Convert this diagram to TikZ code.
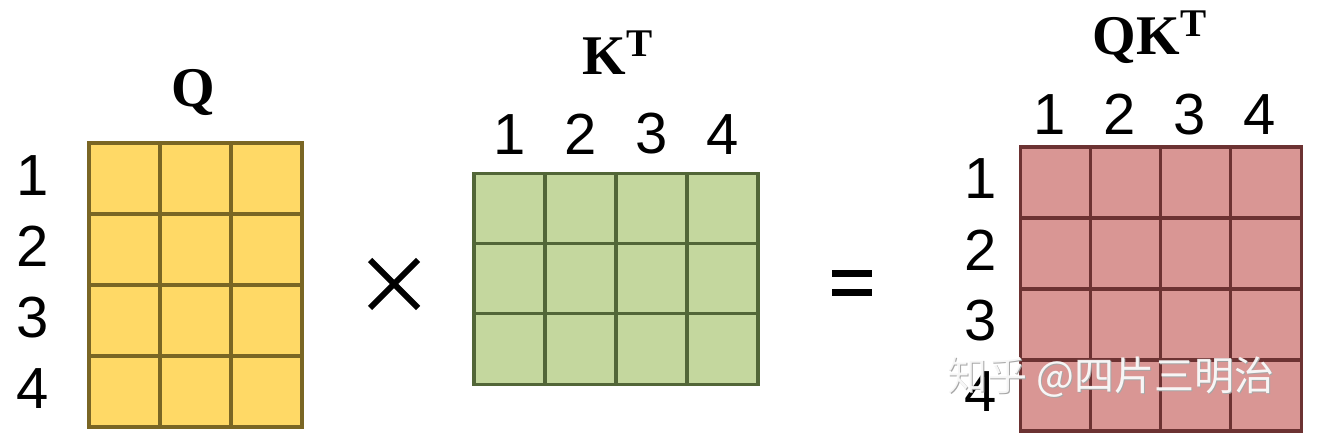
\documentclass[tikz,border=0pt]{standalone}
\usepackage{fontspec}
\setmainfont{Liberation Serif}
\setsansfont{Liberation Sans}
\newfontfamily\cjk{Noto Sans CJK SC}
\usetikzlibrary{positioning}
\definecolor{qfill}{RGB}{255,217,102}
\definecolor{qline}{RGB}{122,102,36}
\definecolor{kfill}{RGB}{196,215,158}
\definecolor{kline}{RGB}{82,102,56}
\definecolor{sfill}{RGB}{217,150,148}
\definecolor{sline}{RGB}{108,50,50}
\tikzset{
cell/.style = {draw, minimum size=35.5pt, inner sep=0pt, outer sep=0pt, line width=1.7pt},
qc/.style = {cell, fill=qfill, draw=qline},
kc/.style = {cell, fill=kfill, draw=kline},
sc/.style = {cell, fill=sfill, draw=sline},
num/.style = {font=\sffamily\fontsize{29}{30}\selectfont, inner sep=0pt},
lab/.style = {font=\bfseries\fontsize{28}{30}\selectfont, inner sep=0pt, anchor=base},
opsign/.style = {line width=#1, line cap=butt},
opsign/.default = 3pt,
wmark/.style = {font=\cjk\fontsize{20}{20}\selectfont, inner sep=0pt}
}

\begin{document}
\begin{tikzpicture}[x=0.5pt,y=-0.5pt]
  \useasboundingbox (0,0) rectangle (1320,442);
  % Q: 4 rows, 3 columns
  \foreach \r in {1,...,4}
    \foreach \c in {1,2,3}
      \node [qc] (q-\r-\c) at ({89+71*\c-35.5},{143+71*\r-35.5}) {};
  \foreach \r in {1,...,4}
    \node [num, left=20pt of q-\r-1, yshift=1.5pt] (qr-\r) {\r};
  \node [lab] (qlab) at (193,107) {Q};
  % K^T: 3 rows, 4 columns
  \foreach \r in {1,2,3}
    \foreach \c in {1,...,4}
      \node [kc] (k-\r-\c) at ({474+71*\c-35.5},{174+70*\r-35}) {};
  \foreach \c in {1,...,4}
    \node [num, above=9.5pt of k-1-\c] (kc-\c) {\c};
  \node [lab] (klab) at (618,75) {K\textsuperscript{T}};
  % QK^T: 4 x 4
  \foreach \r in {1,...,4}
    \foreach \c in {1,...,4}
      \node [sc] (s-\r-\c) at ({1021+70*\c-35},{147+71*\r-35.5}) {};
  \foreach \r in {1,...,4}
    \node [num, left=11.5pt of s-\r-1, yshift=1.8pt] (sr-\r) {\r};
  \foreach \c in {1,...,4}
    \node [num, above=6pt of s-1-\c, xshift=-3pt] (sc-\c) {\c};
  \node [lab] (slab) at (1150,55) {QK\textsuperscript{T}};
  % operators
  \coordinate (times) at (394,284);
  \draw [opsign] ([shift={(-24,-24)}]times) -- ([shift={(24,24)}]times);
  \draw [opsign] ([shift={(24,-24)}]times) -- ([shift={(-24,24)}]times);
  \coordinate (equals) at (852,284);
  \draw [opsign=3.5pt] ([shift={(-20,-10)}]equals) -- ([shift={(20,-10)}]equals);
  \draw [opsign=3.5pt] ([shift={(-20,9)}]equals) -- ([shift={(20,9)}]equals);
  % watermark
  \node [wmark, text=gray!70] (mark-sh) at (1112,378) {知乎\ @四片三明治};
  \node [wmark, text=white, opacity=0.9] (mark) at (1111,377) {知乎\ @四片三明治};
\end{tikzpicture}
\end{document}
